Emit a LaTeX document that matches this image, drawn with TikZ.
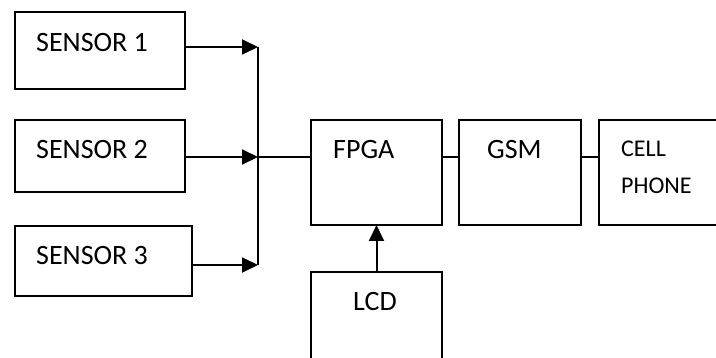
\documentclass[tikz,border=0pt]{standalone}
\usepackage{fontspec}
\setmainfont{Carlito}
\usetikzlibrary{arrows.meta}
\begin{document}
\begin{tikzpicture}[x=1pt,y=-1pt,
  box/.style={draw, line width=1.8pt, inner sep=0pt, outer sep=0pt},
  lbl/.style={anchor=base west, inner sep=0pt, font=\fontsize{28}{33}\selectfont},
  lblsm/.style={anchor=base west, inner sep=0pt, font=\fontsize{24}{37}\selectfont},
  wire/.style={line width=2pt},
  arr/.style={wire, -{Triangle[length=16pt,width=15pt]}}]
\useasboundingbox (0,0) rectangle (716,358);
\clip (0,0) rectangle (716,358);
% boxes
\node[box, minimum width=170pt, minimum height=77pt] (s1) at (100,50.5) {};
\node[box, minimum width=170pt, minimum height=72pt] (s2) at (100,156) {};
\node[box, minimum width=177pt, minimum height=70pt] (s3) at (103.5,261) {};
\node[box, minimum width=131pt, minimum height=105pt] (fpga) at (376.5,172.5) {};
\node[box, minimum width=122pt, minimum height=105pt] (gsm) at (520,172.5) {};
\node[box, minimum width=130pt, minimum height=105pt] (cell) at (664,172.5) {};
\node[box, minimum width=131pt, minimum height=100pt] (lcd) at (376.5,322) {};
% texts
\node[lbl] (t1) at (36,52) {SENSOR 1};
\node[lbl] (t2) at (36,159) {SENSOR 2};
\node[lbl] (t3) at (36,265) {SENSOR 3};
\node[lbl] (tf) at (333,159) {FPGA};
\node[lbl] (tg) at (487,159) {GSM};
\node[lblsm] (tc1) at (621,157) {CELL};
\node[lblsm] (tc2) at (621,194) {PHONE};
\node[lbl] (tl) at (353,311) {LCD};
% connectors
\coordinate (j1) at (258,47);
\coordinate (j2) at (258,157);
\coordinate (j3) at (258,265);
\draw[arr] (s1.east |- j1) -- (j1);
\draw[arr] (s2.east |- j2) -- (j2);
\draw[arr] (s3.east |- j3) -- (j3);
\draw[wire] (j1) -- (j3);
\draw[wire] (j2) -- (fpga.west |- j2);
\draw[wire] (fpga.east |- j2) -- (gsm.west |- j2);
\draw[wire] (gsm.east |- j2) -- (cell.west |- j2);
\draw[arr] (lcd.north) -- (fpga.south);
\end{tikzpicture}
\end{document}
